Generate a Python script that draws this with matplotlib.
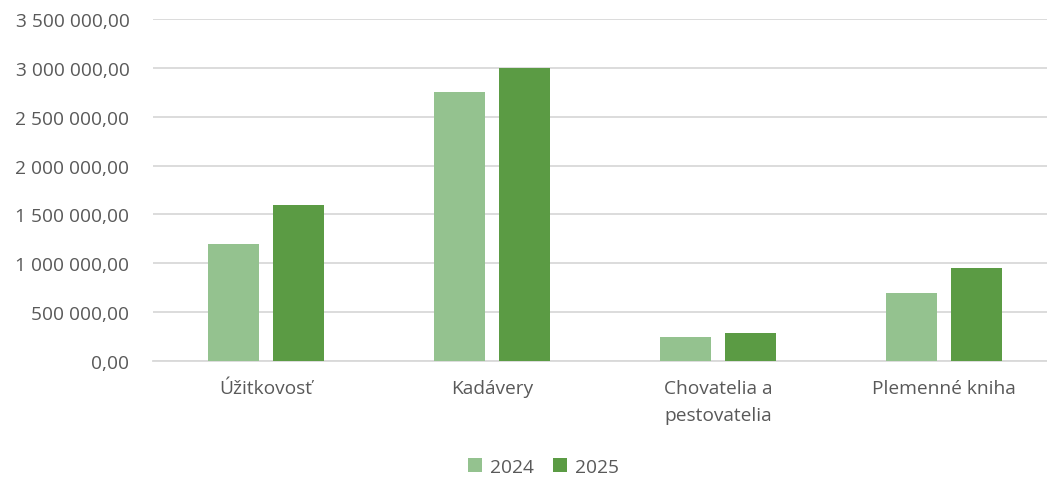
import numpy as np
import matplotlib.pyplot as plt
from matplotlib.ticker import FuncFormatter

plt.rcParams['font.family'] = ['Open Sans', 'DejaVu Sans']

kategorie = ['Úžitkovosť', 'Kadávery', 'Chovatelia a\npestovatelia', 'Plemenné kniha']
roky = ['2024', '2025']
hodnoty_2024 = [1200000, 2750000, 250000, 700000]
hodnoty_2025 = [1600000, 3000000, 290000, 950000]
farby = ['#94c28f', '#5b9b44']

fig = plt.figure(figsize=(10.47, 4.81), dpi=100)
ax = fig.add_axes([153/1047, 119/481, 904/1047, 342/481])

x = np.arange(len(kategorie))
w = 0.226
off = 0.144
ax.bar(x - off, hodnoty_2024, w, color=farby[0], label=roky[0], zorder=3)
ax.bar(x + off, hodnoty_2025, w, color=farby[1], label=roky[1], zorder=3)

ax.set_xlim(-0.5, len(kategorie) - 0.5)
ax.set_ylim(0, 3500000)
ax.set_yticks(np.arange(0, 3500001, 500000))

def fmt(v, pos):
    s = f'{v:,.2f}'
    return s.replace(',', ' ').replace('.', ',')

ax.yaxis.set_major_formatter(FuncFormatter(fmt))
ax.grid(axis='y', color='#d9d9d9', linewidth=1.3, zorder=0)
for s in ['top', 'right', 'left']:
    ax.spines[s].set_visible(False)
ax.spines['bottom'].set_color('#d9d9d9')
ax.spines['bottom'].set_linewidth(1.3)

ax.set_xticks(x)
ax.set_xticklabels(kategorie, va='top', linespacing=1.65)
ax.tick_params(axis='x', length=0, pad=13, labelsize=13.8, labelcolor='#595959')
ax.tick_params(axis='y', length=0, pad=17, labelsize=13.8, labelcolor='#595959')

leg = fig.legend(loc='center', bbox_to_anchor=(0.519, 1 - 468/481), ncol=2, frameon=False,
                 fontsize=13.8, handlelength=0.75, handleheight=0.75, handletextpad=0.4,
                 columnspacing=1.0)
for t in leg.get_texts():
    t.set_color('#595959')

fig.savefig('out.png', dpi=100)
